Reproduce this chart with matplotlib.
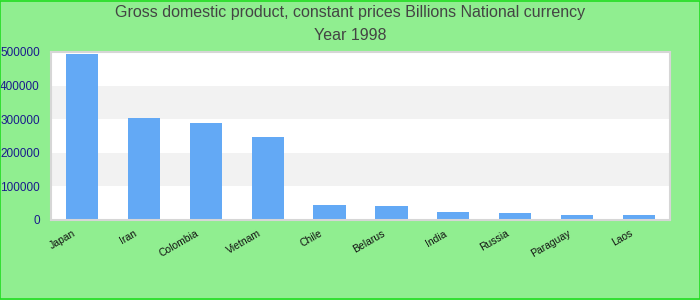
import matplotlib
matplotlib.use("Agg")
import matplotlib.pyplot as plt
import matplotlib.transforms as mtransforms
import numpy as np

plt.rcParams["font.family"] = ["Liberation Sans", "DejaVu Sans"]

countries = ["Japan", "Iran", "Colombia", "Vietnam", "Chile",
             "Belarus", "India", "Russia", "Paraguay", "Laos"]
gdp = [494000, 303500, 288500, 247000, 44500,
       41500, 23500, 21000, 15000, 15000]
yticks = [0, 100000, 200000, 300000, 400000, 500000]

fig = plt.figure(figsize=(7, 3), dpi=100, facecolor="#90ee90")
ax = fig.add_axes([51 / 700, 1 - 220 / 300, 619 / 700, 168 / 300])
ax.set_facecolor("white")

# alternating bands
for i in range(len(yticks) - 1):
    if i % 2 == 1:
        ax.axhspan(yticks[i], yticks[i + 1], color="#f2f2f2", zorder=0, lw=0)

x = np.arange(len(countries))
ax.bar(x, gdp, width=0.52, color="#63a9f5", zorder=2)

ax.set_xlim(-0.5, len(countries) - 0.5)
ax.set_ylim(0, 500000)
ax.set_yticks(yticks)
ax.set_yticklabels([str(v) for v in yticks], color="#1a1a8c", fontsize=8.5)
ax.set_xticks(x)
ax.set_xticklabels(countries, rotation=30, ha="right", fontsize=7.5, color="#111111")
ax.tick_params(axis="both", length=0)
ax.tick_params(axis="y", pad=8)
ax.tick_params(axis="x", pad=6)

# nudge rotated labels a bit to the left, like the original
shift = mtransforms.ScaledTranslation(-5 / 100, 0, fig.dpi_scale_trans)
for lbl in ax.get_xticklabels():
    lbl.set_transform(lbl.get_transform() + shift)

for s in ax.spines.values():
    s.set_color("#d6d6d6")
    s.set_linewidth(1.5)

fig.text(0.5, 1 - 13 / 300, "Gross domestic product, constant prices Billions National currency",
         ha="center", va="center", fontsize=11.5, color="#444444")
fig.text(0.5, 1 - 36 / 300, "Year 1998", ha="center", va="center",
         fontsize=11.5, color="#444444")

border = plt.Rectangle((0.0007, 0.0017), 0.9986, 0.9966, transform=fig.transFigure,
                       fill=False, edgecolor="#22dd22", lw=1.2)
fig.patches.append(border)

fig.savefig("out.png", dpi=100, facecolor=fig.get_facecolor())
